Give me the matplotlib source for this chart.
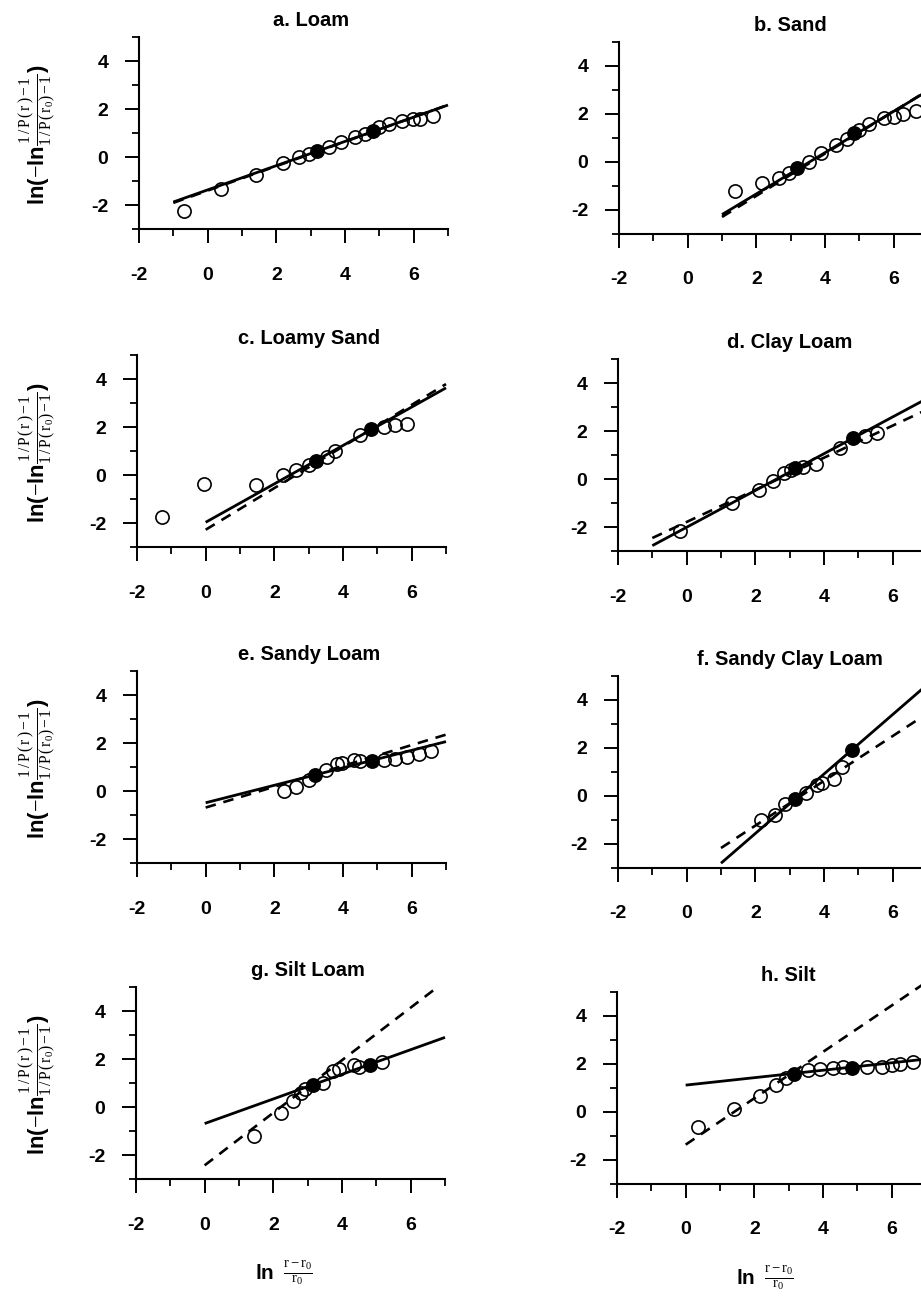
import matplotlib
matplotlib.use("Agg")
import matplotlib.pyplot as plt
import numpy as np
from matplotlib.ticker import FixedLocator

# ---- data -------------------------------------------------------------
titles = ["a. Loam", "b. Sand", "c. Loamy Sand", "d. Clay Loam",
          "e. Sandy Loam", "f. Sandy Clay Loam", "g. Silt Loam", "h. Silt"]

open_x = [
    [-0.70, 0.38, 1.40, 2.19, 2.66, 2.95, 3.53, 3.89, 4.30, 4.59, 4.98, 5.27, 5.65, 5.99, 6.18, 6.57],
    [1.39, 2.17, 2.65, 2.95, 3.53, 3.89, 4.31, 4.63, 5.00, 5.29, 5.73, 6.02, 6.26, 6.65],
    [-1.28, -0.05, 1.46, 2.26, 2.62, 3.00, 3.54, 3.78, 4.50, 5.18, 5.52, 5.86],
    [-0.19, 1.32, 2.11, 2.50, 2.84, 3.03, 3.38, 3.77, 4.48, 5.18, 5.53],
    [2.27, 2.64, 3.00, 3.51, 3.83, 3.97, 4.31, 4.50, 5.18, 5.52, 5.86, 6.20, 6.56],
    [2.17, 2.56, 2.87, 3.49, 3.81, 3.93, 4.30, 4.51],
    [1.45, 2.23, 2.56, 2.81, 2.93, 3.44, 3.73, 3.92, 4.35, 4.50, 5.16],
    [0.37, 1.40, 2.17, 2.63, 2.93, 3.56, 3.90, 4.29, 4.59, 5.27, 5.71, 6.00, 6.24, 6.63],
]
open_y = [
    [-2.25, -1.32, -0.76, -0.25, 0.00, 0.11, 0.42, 0.62, 0.83, 0.97, 1.25, 1.39, 1.50, 1.60, 1.60, 1.69],
    [-1.19, -0.89, -0.68, -0.44, 0.01, 0.39, 0.71, 0.96, 1.33, 1.58, 1.82, 1.89, 2.00, 2.14],
    [-1.76, -0.38, -0.40, 0.01, 0.22, 0.43, 0.74, 0.99, 1.68, 1.99, 2.07, 2.13],
    [-2.17, -1.02, -0.44, -0.10, 0.25, 0.36, 0.52, 0.63, 1.28, 1.81, 1.90],
    [0.00, 0.17, 0.44, 0.86, 1.11, 1.17, 1.28, 1.25, 1.31, 1.35, 1.42, 1.53, 1.65],
    [-1.00, -0.78, -0.33, 0.11, 0.47, 0.53, 0.71, 1.22],
    [-1.21, -0.26, 0.25, 0.60, 0.76, 1.01, 1.50, 1.60, 1.74, 1.68, 1.88],
    [-0.64, 0.13, 0.65, 1.14, 1.42, 1.76, 1.79, 1.83, 1.86, 1.88, 1.88, 1.97, 2.01, 2.07],
]
filled_x = [
    [3.19, 4.83], [3.19, 4.85], [3.22, 4.82], [3.16, 4.84],
    [3.19, 4.84], [3.15, 4.83], [3.15, 4.81], [3.15, 4.85],
]
filled_y = [
    [0.25, 1.10], [-0.24, 1.19], [0.57, 1.93], [0.46, 1.71],
    [0.65, 1.25], [-0.13, 1.93], [0.92, 1.74], [1.60, 1.83],
]
# fitted lines: (intercept, slope, x_start, x_end)
solid_fit = [
    (-1.37, 0.505, -1.0, 7.0),
    (-3.05, 0.860, 1.0, 7.0),
    (-1.97, 0.800, 0.0, 7.0),
    (-2.01, 0.766, -1.0, 7.0),
    (-0.49, 0.364, 0.0, 7.0),
    (-4.04, 1.239, 1.0, 7.0),
    (-0.69, 0.513, 0.0, 7.0),
    (1.12, 0.155, 0.0, 7.0),
]
dashed_fit = [
    (-1.40, 0.510, -1.0, 7.0),
    (-3.17, 0.880, 1.0, 7.0),
    (-2.28, 0.867, 0.0, 7.0),
    (-1.79, 0.669, -1.0, 7.0),
    (-0.69, 0.434, 0.0, 7.0),
    (-3.10, 0.933, 1.0, 7.0),
    (-2.43, 1.095, 0.0, 6.7),
    (-1.36, 0.966, 0.0, 7.0),
]

# ---- style ------------------------------------------------------------
plt.rcParams['font.family'] = ['Liberation Sans', 'DejaVu Sans']
plt.rcParams['axes.unicode_minus'] = False
plt.rcParams['mathtext.fontset'] = 'custom'
plt.rcParams['mathtext.rm'] = 'Liberation Serif'
plt.rcParams['mathtext.it'] = 'Liberation Serif:italic'
plt.rcParams['mathtext.sf'] = 'Liberation Sans:bold'
plt.rcParams['mathtext.bf'] = 'Liberation Sans:bold'

W, H = 921, 1299
fig = plt.figure(figsize=(W / 100, H / 100), dpi=100)

# axes frames in pixels: (left, bottom) of the plotting area
frames = [(139, 229), (619, 234), (137, 547), (618, 551),
          (137, 863), (618, 868), (136, 1179), (617, 1184)]
AW, AH = 309, 192

ylab = (r'$\mathsf{ln(}{-}\mathsf{ln}'
        r'\frac{\mathrm{1\,/\,P\,(\,r\,)\,{-}\,1}}'
        r'{\mathrm{1\,/\,P\,(\,r_0)\,{-}\,1}}\mathsf{)}$')
xlab = r'$\mathsf{ln}\ \ \frac{\mathrm{r\,{-}\,r_0}}{\mathrm{r_0}}$'

for i, (px, py) in enumerate(frames):
    ax = fig.add_axes([px / W, 1 - py / H, AW / W, AH / H])
    ax.set_xlim(-2, 7)
    ax.set_ylim(-3, 5)
    for s in ('top', 'right'):
        ax.spines[s].set_visible(False)
    for s in ('left', 'bottom'):
        ax.spines[s].set_linewidth(1.5)
    ax.xaxis.set_major_locator(FixedLocator([-2, 0, 2, 4, 6]))
    ax.xaxis.set_minor_locator(FixedLocator([-1, 1, 3, 5, 7]))
    ax.yaxis.set_major_locator(FixedLocator([-2, 0, 2, 4]))
    ax.yaxis.set_minor_locator(FixedLocator([-3, -1, 1, 3, 5]))
    ax.tick_params(which='major', direction='out', length=10, width=1.4,
                   labelsize=14)
    ax.tick_params(which='minor', direction='out', length=5, width=1.3)
    ax.tick_params(axis='x', which='major', pad=17)
    ax.tick_params(axis='y', which='major', pad=12)
    for lab in ax.get_xticklabels() + ax.get_yticklabels():
        lab.set_fontweight('bold')

    b0, m0, xa, xb = solid_fit[i]
    xs = np.array([xa, xb])
    ax.plot(xs, b0 + m0 * xs, color='black', lw=2.0, solid_capstyle='butt',
            clip_on=False, zorder=2)
    b1, m1, xa, xb = dashed_fit[i]
    xs = np.array([xa, xb])
    ax.plot(xs, b1 + m1 * xs, color='black', lw=1.9, linestyle=(0, (4, 3)),
            clip_on=False, zorder=2)

    ax.plot(open_x[i], open_y[i], 'o', ms=9.5, mfc='none', mec='black',
            mew=1.2, zorder=3, clip_on=False)
    ax.plot(filled_x[i], filled_y[i], 'o', ms=9.5, mfc='black', mec='black',
            mew=1.2, zorder=4, clip_on=False)

    ax.text(5 / 9, 1 + 11 / AH, titles[i], transform=ax.transAxes,
            ha='center', va='baseline', fontsize=14.5, fontweight='bold')

    if i % 2 == 0:
        ax.text((38 - px) / AW, 0.49, ylab, transform=ax.transAxes,
                rotation=90, ha='center', va='center', fontsize=16)
    if i >= 6:
        ax.text(0.48, -0.49, xlab, transform=ax.transAxes,
                ha='center', va='center', fontsize=15)

fig.savefig("out.png", dpi=100)
